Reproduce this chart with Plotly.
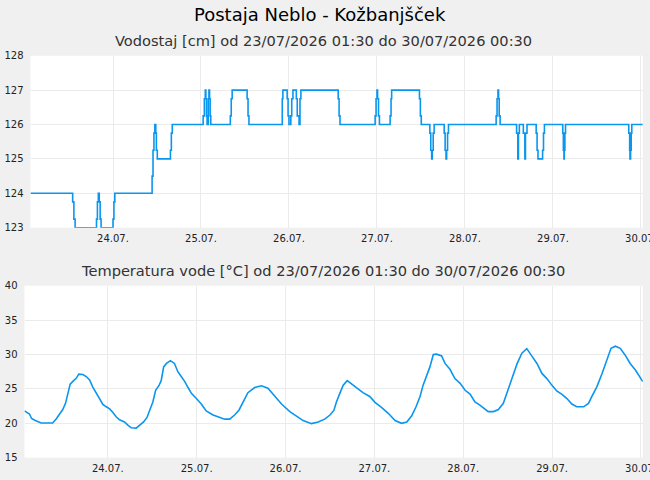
import plotly.graph_objects as go

# ---- Water level (Vodostaj, cm) : step series ----
lvl_time = [
    "2026-07-23 01:30", "2026-07-23 13:00", "2026-07-23 13:20", "2026-07-23 13:40",
    "2026-07-23 19:30", "2026-07-23 19:45", "2026-07-23 20:00", "2026-07-23 20:15",
    "2026-07-23 20:30", "2026-07-23 20:45",
    "2026-07-24 00:00", "2026-07-24 00:15", "2026-07-24 00:30", "2026-07-24 10:40",
    "2026-07-24 10:55", "2026-07-24 11:10", "2026-07-24 11:25", "2026-07-24 11:40",
    "2026-07-24 11:50", "2026-07-24 12:05", "2026-07-24 15:40", "2026-07-24 15:55",
    "2026-07-24 16:10",
    "2026-07-25 00:35", "2026-07-25 00:55", "2026-07-25 01:10", "2026-07-25 01:20",
    "2026-07-25 01:30", "2026-07-25 01:40", "2026-07-25 02:00", "2026-07-25 02:10",
    "2026-07-25 02:20", "2026-07-25 02:30", "2026-07-25 02:40", "2026-07-25 08:00",
    "2026-07-25 08:15", "2026-07-25 08:30", "2026-07-25 12:35", "2026-07-25 12:50",
    "2026-07-25 13:05", "2026-07-25 22:10", "2026-07-25 22:20", "2026-07-25 23:30",
    "2026-07-25 23:45",
    "2026-07-26 00:00", "2026-07-26 00:30", "2026-07-26 00:45", "2026-07-26 01:05",
    "2026-07-26 02:00", "2026-07-26 02:15", "2026-07-26 02:45", "2026-07-26 03:00",
    "2026-07-26 03:15", "2026-07-26 13:25", "2026-07-26 13:40", "2026-07-26 13:55",
    "2026-07-26 23:30", "2026-07-26 23:45",
    "2026-07-27 00:00", "2026-07-27 00:10", "2026-07-27 00:25", "2026-07-27 00:40",
    "2026-07-27 03:35", "2026-07-27 03:50", "2026-07-27 04:00", "2026-07-27 11:35",
    "2026-07-27 11:50", "2026-07-27 12:05", "2026-07-27 14:25", "2026-07-27 14:40",
    "2026-07-27 14:55", "2026-07-27 15:05", "2026-07-27 15:20", "2026-07-27 15:35",
    "2026-07-27 18:20", "2026-07-27 18:35", "2026-07-27 18:50", "2026-07-27 19:00",
    "2026-07-27 19:15", "2026-07-27 19:30",
    "2026-07-28 08:30", "2026-07-28 08:45", "2026-07-28 09:00", "2026-07-28 09:10",
    "2026-07-28 09:20", "2026-07-28 09:35", "2026-07-28 14:05", "2026-07-28 14:25",
    "2026-07-28 14:35", "2026-07-28 14:50", "2026-07-28 15:55", "2026-07-28 16:20",
    "2026-07-28 16:30", "2026-07-28 16:55", "2026-07-28 19:25", "2026-07-28 19:40",
    "2026-07-28 19:55", "2026-07-28 21:10", "2026-07-28 21:25", "2026-07-28 21:40",
    "2026-07-29 02:40", "2026-07-29 02:50", "2026-07-29 03:00", "2026-07-29 03:05",
    "2026-07-29 03:15", "2026-07-29 03:25", "2026-07-29 20:40", "2026-07-29 20:55",
    "2026-07-29 21:00", "2026-07-29 21:10", "2026-07-29 21:20", "2026-07-29 21:30",
    "2026-07-30 00:30",
]
lvl_val = [
    124, 123.75, 123.25, 123,
    123.25, 123.75, 124, 123.75,
    123.25, 123,
    123.25, 123.75, 124, 124.5,
    125.25, 125.75, 126, 125.75,
    125.25, 125, 125.25, 125.75,
    126,
    126.25, 126.75, 127, 126.75,
    126.25, 126, 126.75, 127,
    126.75, 126.25, 126, 126.25,
    126.75, 127, 126.75, 126.25,
    126, 126.75, 127, 126.75,
    126.25,
    126, 126.25, 126.75, 127,
    126.75, 126.25, 126, 126.75,
    127, 126.75, 126.25, 126,
    126.25, 126.75,
    127, 126.75, 126.25, 126,
    126.25, 126.75, 127, 126.75,
    126.25, 126, 125.75, 125.25,
    125, 125.25, 125.75, 126,
    125.75, 125.25, 125, 125.25,
    125.75, 126,
    126.25, 126.75, 127, 126.75,
    126.25, 126, 125.75, 125,
    125.75, 126, 125.75, 125,
    125.75, 126, 125.75, 125.25,
    125, 125.25, 125.75, 126,
    125.75, 125.25, 125, 125.25,
    125.75, 126, 125.75, 125.25,
    125, 125.25, 125.75, 126,
    126,
]

# ---- Water temperature (Temperatura vode, °C) ----
tmp_time = [
    "2026-07-23 01:30", "2026-07-23 02:50", "2026-07-23 03:25", "2026-07-23 04:25",
    "2026-07-23 06:00", "2026-07-23 09:05", "2026-07-23 10:00", "2026-07-23 11:00",
    "2026-07-23 11:50", "2026-07-23 12:35", "2026-07-23 13:10", "2026-07-23 13:50",
    "2026-07-23 14:45", "2026-07-23 15:25", "2026-07-23 16:10", "2026-07-23 17:15",
    "2026-07-23 18:10", "2026-07-23 19:05", "2026-07-23 19:55", "2026-07-23 20:50",
    "2026-07-23 21:45", "2026-07-23 22:40", "2026-07-23 23:35",
    "2026-07-24 00:30", "2026-07-24 01:20", "2026-07-24 02:15", "2026-07-24 03:10",
    "2026-07-24 04:30", "2026-07-24 05:25", "2026-07-24 06:20", "2026-07-24 07:40",
    "2026-07-24 08:35", "2026-07-24 09:40", "2026-07-24 10:35", "2026-07-24 11:30",
    "2026-07-24 12:10", "2026-07-24 12:55", "2026-07-24 13:50", "2026-07-24 14:25",
    "2026-07-24 15:05", "2026-07-24 15:50", "2026-07-24 16:55", "2026-07-24 18:00",
    "2026-07-24 18:55", "2026-07-24 19:50", "2026-07-24 20:45", "2026-07-24 21:40",
    "2026-07-24 22:35", "2026-07-24 23:55",
    "2026-07-25 01:15", "2026-07-25 02:35", "2026-07-25 04:25", "2026-07-25 05:45",
    "2026-07-25 07:35", "2026-07-25 08:55", "2026-07-25 10:15", "2026-07-25 11:25",
    "2026-07-25 12:30", "2026-07-25 13:50", "2026-07-25 15:40", "2026-07-25 17:30",
    "2026-07-25 19:15", "2026-07-25 21:05", "2026-07-25 22:55",
    "2026-07-26 01:10", "2026-07-26 02:55", "2026-07-26 04:45", "2026-07-26 07:00",
    "2026-07-26 08:50", "2026-07-26 10:35", "2026-07-26 12:00", "2026-07-26 13:05",
    "2026-07-26 13:45", "2026-07-26 14:40", "2026-07-26 15:35", "2026-07-26 16:40",
    "2026-07-26 17:50", "2026-07-26 19:10", "2026-07-26 20:55", "2026-07-26 22:45",
    "2026-07-27 00:10", "2026-07-27 01:55", "2026-07-27 03:45", "2026-07-27 05:35",
    "2026-07-27 07:20", "2026-07-27 08:45", "2026-07-27 10:05", "2026-07-27 11:15",
    "2026-07-27 12:20", "2026-07-27 13:10", "2026-07-27 14:10", "2026-07-27 15:00",
    "2026-07-27 15:55", "2026-07-27 16:50", "2026-07-27 18:10", "2026-07-27 19:05",
    "2026-07-27 20:25", "2026-07-27 21:45", "2026-07-27 23:10",
    "2026-07-28 00:30", "2026-07-28 01:50", "2026-07-28 03:10", "2026-07-28 04:30",
    "2026-07-28 05:55", "2026-07-28 06:45", "2026-07-28 08:10", "2026-07-28 09:30",
    "2026-07-28 10:50", "2026-07-28 11:55", "2026-07-28 13:05", "2026-07-28 14:30",
    "2026-07-28 15:50", "2026-07-28 17:10", "2026-07-28 18:30", "2026-07-28 19:55",
    "2026-07-28 21:15", "2026-07-28 22:35", "2026-07-28 23:55",
    "2026-07-29 01:15", "2026-07-29 02:40", "2026-07-29 04:00", "2026-07-29 05:20",
    "2026-07-29 06:40", "2026-07-29 08:30", "2026-07-29 09:50", "2026-07-29 10:45",
    "2026-07-29 12:05", "2026-07-29 13:30", "2026-07-29 14:50", "2026-07-29 15:55",
    "2026-07-29 17:05", "2026-07-29 18:25", "2026-07-29 19:45", "2026-07-29 21:05",
    "2026-07-29 22:30", "2026-07-29 23:50",
    "2026-07-30 00:30",
]
tmp_val = [
    21.8, 21.35, 20.7, 20.4,
    20.05, 20.05, 20.6, 21.35,
    22.0, 22.9, 24.25, 25.7,
    26.2, 26.5, 27.15, 27.1,
    26.8, 26.3, 25.3, 24.45,
    23.4, 22.75, 22.4,
    22.1, 21.6, 20.95, 20.5,
    20.2, 19.75, 19.35, 19.3,
    19.75, 20.2, 20.85, 22.1,
    23.1, 24.8, 25.5, 26.2,
    28.2, 28.7, 29.1, 28.7,
    27.5, 26.8, 26.1, 25.2,
    24.35, 23.6,
    22.8, 21.8, 21.2, 20.95,
    20.6, 20.6, 21.2, 21.9,
    23.1, 24.45, 25.2, 25.45,
    25.1, 24.0, 22.8,
    21.7, 21.1, 20.4, 19.95,
    20.2, 20.6, 21.2, 21.9,
    23.1, 24.35, 25.55, 26.2,
    25.7, 25.2, 24.45, 23.9,
    23.05, 22.3, 21.45, 20.4,
    20.0, 20.2, 21.1, 22.4,
    23.9, 25.55, 27.0, 28.2,
    30.0, 30.05, 29.8, 28.7,
    27.85, 26.5, 25.8,
    24.8, 24.25, 23.1, 22.65,
    22.0, 21.7, 21.7, 22.0,
    22.9, 24.6, 26.5, 28.6,
    30.2, 30.85, 29.8, 28.7,
    27.25, 26.5, 25.55,
    24.7, 24.2, 23.6, 22.8,
    22.4, 22.4, 22.9, 23.9,
    25.3, 27.25, 29.2, 30.9,
    31.2, 30.9, 29.9, 28.7,
    27.75, 26.5,
    26.05,
]

x_range = ["2026-07-23 01:30", "2026-07-30 00:30"]
title_main = "Postaja Neblo - Kožbanjšček"
title_lvl = "Vodostaj [cm] od 23/07/2026 01:30 do 30/07/2026 00:30"
title_tmp = "Temperatura vode [°C] od 23/07/2026 01:30 do 30/07/2026 00:30"

W, H = 650, 480
LINE = "#0a96ee"
GRID = "#ebebeb"
FONT = "DejaVu Sans"

fig = go.Figure()
fig.add_trace(go.Scatter(x=lvl_time, y=lvl_val, mode="lines", line_shape="hv",
                         line=dict(color=LINE, width=1.6), xaxis="x", yaxis="y",
                         showlegend=False, hoverinfo="x+y"))
fig.add_trace(go.Scatter(x=tmp_time, y=tmp_val, mode="lines",
                         line=dict(color=LINE, width=1.6), xaxis="x2", yaxis="y2",
                         showlegend=False, hoverinfo="x+y"))

xcommon = dict(type="date", range=x_range, dtick=86400000, tick0="2026-07-24",
               tickformat="%d.%m.", showgrid=True, gridcolor=GRID, gridwidth=1,
               zeroline=False, showline=False, ticks="", automargin=False,
               ticklabeloverflow="allow", ticklabelstandoff=3,
               tickfont=dict(family=FONT, size=10, color="#222"))
ycommon = dict(showgrid=True, gridcolor=GRID, gridwidth=1, zeroline=False,
               showline=False, ticks="", ticklabelstandoff=6, automargin=False,
               tickfont=dict(family=FONT, size=10, color="#222"))

fig.update_layout(
    width=W, height=H, autosize=False,
    margin=dict(l=0, r=0, t=0, b=0, pad=0),
    paper_bgcolor="#f0f0f0", plot_bgcolor="#ffffff",
    xaxis=dict(domain=[30.5 / W, 642.8 / W], anchor="y", **xcommon),
    yaxis=dict(domain=[(H - 227.7) / H, (H - 55.7) / H], anchor="x",
               range=[123, 128], dtick=1, **ycommon),
    xaxis2=dict(domain=[24.5 / W, 642.8 / W], anchor="y2", **xcommon),
    yaxis2=dict(domain=[(H - 457.7) / H, (H - 285.7) / H], anchor="x2",
                range=[15, 40], dtick=5, **ycommon),
    annotations=[
        dict(text=title_main, x=0.493, y=(H - 14) / H, xref="paper", yref="paper",
             showarrow=False, xanchor="center", yanchor="middle",
             font=dict(family=FONT, size=18, color="#000")),
        dict(text=title_lvl, x=0.497, y=(H - 40) / H, xref="paper", yref="paper",
             showarrow=False, xanchor="center", yanchor="middle",
             font=dict(family=FONT, size=14.6, color="#333")),
        dict(text=title_tmp, x=0.497, y=(H - 270) / H, xref="paper", yref="paper",
             showarrow=False, xanchor="center", yanchor="middle",
             font=dict(family=FONT, size=14.6, color="#333")),
    ],
)

fig.write_html("out.html")
